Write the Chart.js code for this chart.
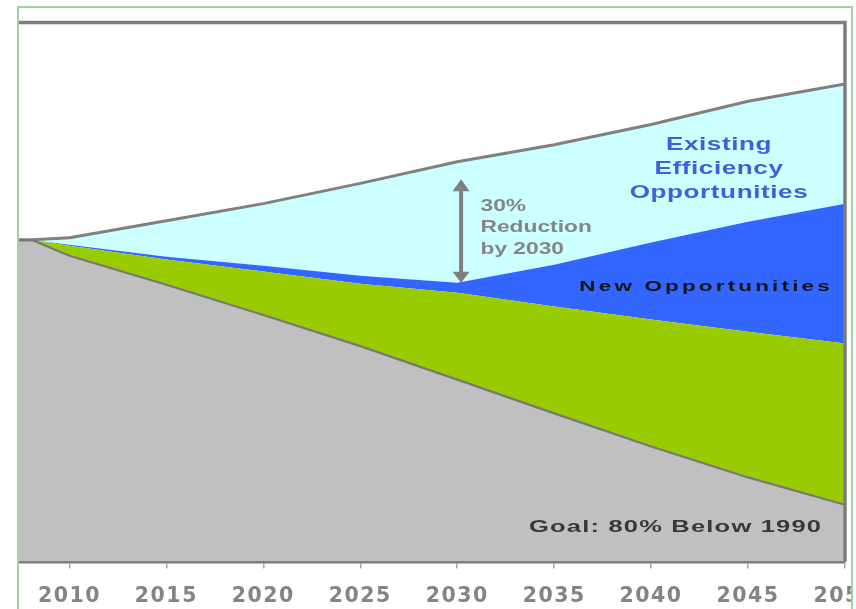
<!DOCTYPE html>
<html>
<head>
<meta charset="utf-8">
<script src="https://cdn.jsdelivr.net/npm/chart.js@4.4.1/dist/chart.umd.min.js"></script>
<style>
  html, body { margin: 0; padding: 0; background: #fff; }
  #wrap { position: relative; width: 856px; height: 609px; overflow: hidden; background: #fff; }
  #clip { position: absolute; left: 0; top: 0; width: 852px; height: 609px; overflow: hidden; }
  #frame { position: absolute; left: 17px; top: 6px; width: 832px; height: 640px; border: 2px solid #9fd39f; }
</style>
</head>
<body>
<div id="wrap">
  <div id="clip"><canvas id="chart" width="900" height="640"></canvas></div>
  <div id="frame"></div>
</div>
<script>
// values (index: start = 100)
const years = [2007.4, 2008.1, 2010, 2015, 2020, 2025, 2030, 2035, 2040, 2045, 2050];
const businessAsUsual = [100, 100, 100.6, 105.9, 111.2, 117.5, 124.2, 129.5, 135.8, 143.0, 148.4];
const afterExisting   = [100, 99.8, 98.4, 94.7, 91.9, 88.8, 86.6, 92.2, 99.1, 105.6, 111.2];
const afterNew        = [100, 99.8, 98.1, 93.8, 90.1, 86.3, 83.5, 79.2, 75.2, 71.4, 67.7];
const goalPath        = [99.8, 99.8, 95.0, 86.0, 76.6, 66.9, 56.5, 46.0, 35.7, 26.1, 17.6];
const tickYears = [2010, 2015, 2020, 2025, 2030, 2035, 2040, 2045, 2050];

const pts = arr => arr.map((v, i) => ({ x: years[i], y: v }));

// text sits in the picture stretched sideways, like the original slide
function drawLines(ctx, lines, x, y, gap, font, color, spacing, stretch, align) {
  ctx.save();
  ctx.font = font;
  ctx.fillStyle = color;
  ctx.letterSpacing = spacing + 'px';
  ctx.textAlign = align;
  ctx.textBaseline = 'alphabetic';
  lines.forEach((t, i) => {
    ctx.save();
    ctx.translate(x, y + i * gap);
    ctx.scale(stretch, 1);
    ctx.fillText(t, 0, 0);
    ctx.restore();
  });
  ctx.restore();
}

const decor = {
  id: 'decor',
  beforeDraw(chart) {
    chart.ctx.letterSpacing = '1.5px';
  },
  afterDraw(chart) {
    const { ctx, chartArea: a, scales: { x, y } } = chart;
    ctx.save();
    ctx.letterSpacing = '0px';
    // top + right frame
    ctx.strokeStyle = '#7d7d7d';
    ctx.lineWidth = 3.5;
    ctx.beginPath();
    ctx.moveTo(a.left, a.top);
    ctx.lineTo(a.right, a.top);
    ctx.lineTo(a.right, a.bottom);
    ctx.stroke();

    // double arrow at 2030
    const ax = x.getPixelForValue(2030.2);
    const y1 = y.getPixelForValue(118.8);
    const y2 = y.getPixelForValue(afterExisting[6]);
    ctx.fillStyle = '#7f7f7f';
    ctx.strokeStyle = '#7f7f7f';
    ctx.lineWidth = 4;
    ctx.beginPath();
    ctx.moveTo(ax, y1 + 10);
    ctx.lineTo(ax, y2 - 10);
    ctx.stroke();
    ctx.beginPath();
    ctx.moveTo(ax, y1); ctx.lineTo(ax - 8.5, y1 + 12); ctx.lineTo(ax + 8.5, y1 + 12); ctx.closePath();
    ctx.moveTo(ax, y2); ctx.lineTo(ax - 8.5, y2 - 11); ctx.lineTo(ax + 8.5, y2 - 11); ctx.closePath();
    ctx.fill();
    ctx.restore();

    drawLines(ctx, ['Existing', 'Efficiency', 'Opportunities'],
      x.getPixelForValue(2043.5), y.getPixelForValue(127.9), 24,
      'bold 18px "Liberation Sans", Arial, sans-serif', '#3d62d6', 0.4, 1.45, 'center');
    drawLines(ctx, ['30%', 'Reduction', 'by 2030'],
      x.getPixelForValue(2031.2), y.getPixelForValue(109.0), 21.5,
      'bold 16.5px "Liberation Sans", Arial, sans-serif', '#858585', 0, 1.38, 'left');
    drawLines(ctx, ['New Opportunities'],
      x.getPixelForValue(2036.3), y.getPixelForValue(83.9), 0,
      'bold 14px "Liberation Sans", Arial, sans-serif', '#141414', 2, 1.6, 'left');
    drawLines(ctx, ['Goal: 80% Below 1990'],
      x.getPixelForValue(2033.7), y.getPixelForValue(9.1), 0,
      'bold 17px "Liberation Sans", Arial, sans-serif', '#383838', 0.8, 1.5, 'left');
  }
};

new Chart(document.getElementById('chart'), {
  type: 'line',
  data: {
    datasets: [
      { label: 'Goal: 80% Below 1990', data: pts(goalPath), fill: 'origin',
        backgroundColor: '#c0c0c0', borderColor: '#787878', borderWidth: 2.2 },
      { label: 'New Opportunities', data: pts(afterNew), fill: '-1',
        backgroundColor: '#99cc00', borderColor: 'rgba(0,0,0,0)', borderWidth: 0 },
      { label: 'Existing Efficiency Opportunities', data: pts(afterExisting), fill: '-1',
        backgroundColor: '#3366ff', borderColor: 'rgba(0,0,0,0)', borderWidth: 0 },
      { label: 'Business as usual', data: pts(businessAsUsual), fill: '-1',
        backgroundColor: '#ccffff', borderColor: '#808080', borderWidth: 3 },
    ],
  },
  options: {
    responsive: false,
    animation: false,
    events: [],
    layout: { padding: { left: 19, right: 55, top: 22.5, bottom: 15 } },
    elements: { point: { radius: 0 }, line: { tension: 0 } },
    plugins: { legend: { display: false }, tooltip: { enabled: false } },
    scales: {
      x: {
        type: 'linear',
        min: years[0],
        max: 2050,
        afterBuildTicks: s => { s.ticks = tickYears.map(v => ({ value: v })); },
        ticks: {
          callback: v => String(v),
          color: '#848484',
          padding: 16,
          maxRotation: 0,
          autoSkip: false,
          font: { family: '"DejaVu Sans", sans-serif', size: 20.5, weight: 'bold' },
        },
        grid: { display: true, drawOnChartArea: false, drawTicks: true, tickLength: 7, color: '#a8a8a8', lineWidth: 1.5 },
        border: { display: true, color: '#7a7a7a', width: 3.5 },
      },
      y: { display: false, min: 0, max: 167.5 },
    },
  },
  plugins: [decor],
});
</script>
</body>
</html>
